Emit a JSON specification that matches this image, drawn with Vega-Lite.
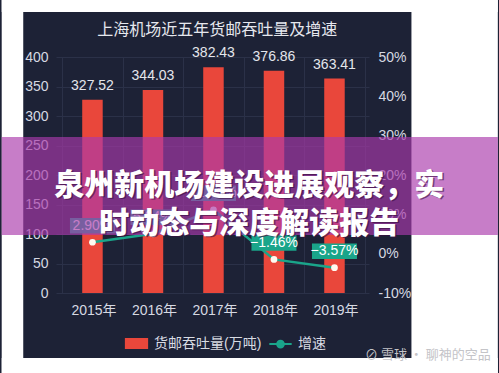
{
  "$schema": "https://vega.github.io/schema/vega-lite/v6.json",
  "width": 313,
  "height": 236,
  "autosize": "none",
  "padding": {"left": 56, "top": 57, "right": 130, "bottom": 80},
  "background": "#1d2236",
  "config": {
    "font": "Liberation Sans, Noto Sans CJK SC, sans-serif",
    "view": {"stroke": null},
    "axis": {"labelFontSize": 14, "labelColor": "#d6d9e2", "domain": false, "ticks": false, "gridColor": "#2b3148", "gridWidth": 1, "labelOverlap": false, "labelBound": false, "labelFlush": false}
  },
  "data": {"values": [
    {"year": 2015, "cargo": 327.52, "rate": 2.90},
    {"year": 2016, "cargo": 344.03, "rate": 5.04},
    {"year": 2017, "cargo": 382.43, "rate": 11.16},
    {"year": 2018, "cargo": 376.86, "rate": -1.46},
    {"year": 2019, "cargo": 363.41, "rate": -3.57}
  ]},
  "resolve": {"scale": {"y": "independent"}},
  "layer": [
    {
      "layer": [
        {"data": {"values": [{}]}, "mark": {"type": "rect", "color": "#ffffff"},
         "encoding": {"x": {"datum": 2013.5, "type": "quantitative"}, "x2": {"datum": 2021.7}, "y": {"datum": 500, "type": "quantitative"}, "y2": {"datum": 476.3}}},
        {"data": {"values": [{}]}, "mark": {"type": "rect", "color": "#ffffff"},
         "encoding": {"x": {"datum": 2013.5, "type": "quantitative"}, "x2": {"datum": 2021.7}, "y": {"datum": -110.2, "type": "quantitative"}, "y2": {"datum": -140}}},
        {"data": {"values": [{}]}, "mark": {"type": "rect", "color": "#ffffff"},
         "encoding": {"x": {"datum": 2013.5, "type": "quantitative"}, "x2": {"datum": 2013.856}, "y": {"datum": 500, "type": "quantitative"}, "y2": {"datum": -140}}},
        {"data": {"values": [{}]}, "mark": {"type": "rect", "color": "#ffffff"},
         "encoding": {"x": {"datum": 2020.272, "type": "quantitative"}, "x2": {"datum": 2021.7}, "y": {"datum": 500, "type": "quantitative"}, "y2": {"datum": -140}}},
        {
          "mark": {"type": "bar", "size": 20.5},
          "encoding": {
            "x": {"field": "year", "type": "quantitative",
                  "scale": {"domain": [2014.48, 2019.488], "nice": false, "zero": false},
                  "axis": {"title": null, "values": [2014.5, 2015.5, 2016.5, 2017.5, 2018.5, 2019.5], "grid": true, "labelOverlap": false,
                           "labelExpr": "datum.value < 2019 ? (datum.value + 0.5) + '年' : ''", "labelOffset": 31.25, "labelPadding": 10, "labelFontSize": 14}},
            "y": {"field": "cargo", "type": "quantitative", "scale": {"domain": [0, 400], "nice": false},
                  "axis": {"title": null, "values": [0, 50, 100, 150, 200, 250, 300, 350, 400], "tickCount": 9, "grid": true, "labelPadding": 8, "labelOverlap": false}},
            "color": {"datum": "货邮吞吐量(万吨)",
                      "scale": {"domain": ["货邮吞吐量(万吨)", "增速"], "range": ["#e9473b", "#1aa58a"]},
                      "legend": {"orient": "none", "legendX": 68, "legendY": 274, "direction": "horizontal", "title": null,
                                 "labelFontSize": 14, "labelColor": "#d8dbe3", "symbolSize": 500, "labelOffset": 5, "columnPadding": 3,
                                 "encode": {"symbols": {"update": {
                                   "shape": {"signal": "datum.value === '增速' ? 'M-1,0H1M0.3,0A0.3,0.3 0 1 1 -0.3,0A0.3,0.3 0 1 1 0.3,0' : 'M-0.95,-0.4H0.95V0.4H-0.95Z'"},
                                   "fill": {"signal": "datum.value === '增速' ? '#ffffff' : '#e9473b'"},
                                   "stroke": {"signal": "datum.value === '增速' ? '#1aa58a' : '#e9473b'"},
                                   "strokeWidth": {"value": 2},
                                   "opacity": {"value": 1}, "fillOpacity": {"value": 1}, "strokeOpacity": {"value": 1}}}}}}
          }
        },
        {
          "mark": {"type": "text", "dy": -14, "fontSize": 14, "color": "#e4e6ec", "baseline": "middle"},
          "encoding": {
            "x": {"field": "year", "type": "quantitative"},
            "y": {"field": "cargo", "type": "quantitative"},
            "text": {"field": "cargo", "type": "quantitative", "format": ".2f"}
          }
        }
      ]
    },
    {
      "layer": [
        {
          "mark": {"type": "line", "strokeWidth": 2.5},
          "encoding": {
            "x": {"field": "year", "type": "quantitative", "scale": {"domain": [2014.48, 2019.488], "nice": false, "zero": false}},
            "y": {"field": "rate", "type": "quantitative", "scale": {"domain": [-10, 50], "nice": false, "zero": false},
                  "axis": {"orient": "right", "title": null, "values": [-10, 0, 10, 20, 30, 40, 50], "tickCount": 7, "grid": false, "labelOverlap": false, "labelExpr": "datum.value + '%'", "labelPadding": 9}},
            "color": {"datum": "增速"}
          }
        },
        {
          "mark": {"type": "point", "shape": "M-1.5,-0.517H1.5V0.517H-1.5Z", "size": 900, "filled": true, "color": "#1aa58a", "opacity": 1, "yOffset": -16.5},
          "encoding": {
            "x": {"field": "year", "type": "quantitative"},
            "y": {"field": "rate", "type": "quantitative"}
          }
        },
        {
          "mark": {"type": "text", "dy": -16.5, "fontSize": 14, "color": "#ffffff", "baseline": "middle", "text": {"expr": "format(datum.rate, '.2f') + '%'"}},
          "encoding": {
            "x": {"field": "year", "type": "quantitative"},
            "y": {"field": "rate", "type": "quantitative"}
          }
        },
        {
          "mark": {"type": "point", "shape": "circle", "size": 45, "filled": true, "color": "#fffaf0", "opacity": 1},
          "encoding": {
            "x": {"field": "year", "type": "quantitative"},
            "y": {"field": "rate", "type": "quantitative"}
          }
        }
      ]
    },
    {
      "data": {"values": [{}]},
      "layer": [
        {"mark": {"type": "text", "text": "上海机场近五年货邮吞吐量及增速", "fontSize": 16, "color": "#e6e8ee", "align": "center", "baseline": "middle"},
         "encoding": {"x": {"datum": 2017.064, "type": "quantitative"}, "y": {"datum": 445.8, "type": "quantitative", "scale": {"domain": [0, 400], "nice": false}, "axis": null}}},
        {"mark": {"type": "rect", "color": "#aa39ab", "opacity": 0.66},
         "encoding": {"x": {"datum": 2013.5, "type": "quantitative"}, "x2": {"datum": 2021.7},
                      "y": {"datum": 264.4, "type": "quantitative", "axis": null}, "y2": {"datum": 98.3}}},
        {"mark": {"type": "text", "text": ["泉州新机场建设进展观察，实", "时动态与深度解读报告"], "font": "Noto Sans CJK SC", "fontWeight": 900, "fontSize": 30, "lineHeight": 38, "color": "#3a0f40", "opacity": 0.6, "align": "center", "baseline": "middle", "dx": 1.5, "dy": 1.5},
         "encoding": {"x": {"datum": 2017.592, "type": "quantitative"}, "y": {"datum": 181.4, "type": "quantitative", "axis": null}}},
        {"mark": {"type": "text", "text": ["泉州新机场建设进展观察，实", "时动态与深度解读报告"], "font": "Noto Sans CJK SC", "fontWeight": 900, "fontSize": 30, "lineHeight": 38, "color": "#ffffff", "align": "center", "baseline": "middle"},
         "encoding": {"x": {"datum": 2017.592, "type": "quantitative"}, "y": {"datum": 181.4, "type": "quantitative", "axis": null}}},
        {"mark": {"type": "text", "text": "⊘ 雪球 · 聊神的空品", "font": "Noto Sans CJK SC", "fontSize": 13, "color": "#c4c4c8", "align": "left", "baseline": "middle"},
         "encoding": {"x": {"datum": 2019.504, "type": "quantitative"}, "y": {"datum": -105.1, "type": "quantitative", "axis": null}}}
      ]
    }
  ]
}
